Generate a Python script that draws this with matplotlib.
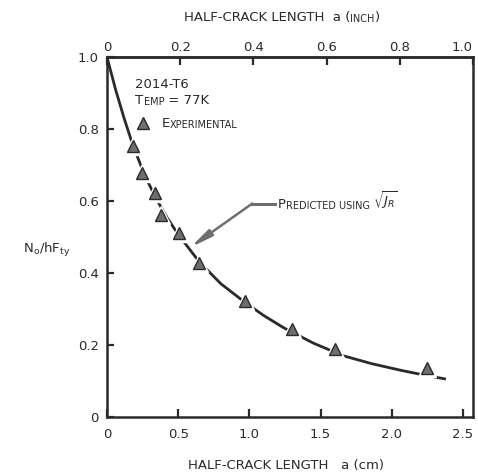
import matplotlib
matplotlib.use("Agg")
import matplotlib.pyplot as plt
from matplotlib.lines import Line2D

plt.rcParams["font.family"] = ["DejaVu Sans"]
plt.rcParams["mathtext.fontset"] = "dejavusans"

INK = "#2a2a2a"
GRAY = "#6e6e6e"

# predicted curve (sqrt J_R), half-crack length in cm vs No/hFty
pred_a_cm = [0, 0.06, 0.12, 0.18, 0.26, 0.34, 0.42, 0.5, 0.65, 0.8,
             0.97, 1.1, 1.24, 1.45, 1.66, 1.86, 2.06, 2.22, 2.37]
pred_ratio = [1.0, 0.91, 0.83, 0.757, 0.676, 0.61, 0.555, 0.507, 0.43, 0.37,
              0.318, 0.282, 0.248, 0.205, 0.170, 0.148, 0.130, 0.117, 0.106]

# experimental points
exp_a_cm = [0.183, 0.246, 0.338, 0.38, 0.507, 0.648, 0.97, 1.296, 1.599, 2.246]
exp_ratio = [0.753, 0.679, 0.623, 0.56, 0.512, 0.427, 0.322, 0.244, 0.19, 0.136]

cm_ticks = [0, 0.5, 1.0, 1.5, 2.0, 2.5]
cm_labels = ["0", "0.5", "1.0", "1.5", "2.0", "2.5"]
inch_ticks = [0, 0.2, 0.4, 0.6, 0.8, 1.0]
inch_labels = ["0", "0.2", "0.4", "0.6", "0.8", "1.0"]
y_ticks = [0, 0.2, 0.4, 0.6, 0.8, 1.0]
y_labels = ["0", "0.2", "0.4", "0.6", "0.8", "1.0"]

CM_PER_INCH = 2.57  # scale as drawn on the original
X_MAX = 2.57

BIG = 9.5
SMALL = 7


def small_caps(first_artist, parts, color=INK):
    # chain text pieces left to right after first_artist
    prev = first_artist
    for txt, size in parts:
        prev = plt.gca().annotate(txt, xy=(1, 0), xycoords=prev, fontsize=size,
                                  ha="left", va="bottom", color=color)
    return prev


fig = plt.figure(figsize=(4.78, 4.75), dpi=100)
ax = fig.add_axes([107 / 478, 58 / 475, 366 / 478, 360 / 475])

ax.plot(pred_a_cm, pred_ratio, color=INK, lw=2.0, zorder=2)
ax.plot(exp_a_cm, exp_ratio, ls="none", marker="^", ms=13, color="white",
        markeredgecolor="white", zorder=3)
ax.plot(exp_a_cm, exp_ratio, ls="none", marker="^", ms=8.5, color=GRAY,
        markeredgecolor=INK, markeredgewidth=1.0, zorder=4)

ax.set_xlim(0, X_MAX)
ax.set_ylim(0, 1.0)
ax.set_xticks(cm_ticks)
ax.set_xticklabels(cm_labels)
ax.set_yticks(y_ticks)
ax.set_yticklabels(y_labels)
ax.tick_params(direction="in", length=6, width=1.6, labelsize=BIG, colors=INK,
               pad=8)
ax.tick_params(axis="y", length=5, pad=6)
for sp in ax.spines.values():
    sp.set_linewidth(1.8)
    sp.set_color(INK)

top = ax.secondary_xaxis("top", functions=(lambda x: x / CM_PER_INCH,
                                           lambda x: x * CM_PER_INCH))
top.set_xticks(inch_ticks)
top.set_xticklabels(inch_labels)
top.tick_params(direction="in", length=6, width=1.6, labelsize=BIG, colors=INK,
                pad=2)
top.spines["top"].set_linewidth(1.8)
top.spines["top"].set_color(INK)
top.get_xticklabels()[-1].set_horizontalalignment("right")

ax.set_ylabel(r"N$_\mathregular{o}$/hF$_\mathregular{ty}$", rotation=0,
              fontsize=BIG, color=INK)
ax.yaxis.set_label_coords(-0.165, 0.44)

# axis titles
t = fig.text(184 / 478, 1 - 24 / 475, "HALF-CRACK LENGTH  a (", fontsize=BIG,
             color=INK, ha="left", va="bottom")
small_caps(t, [("INCH", SMALL), (")", BIG)])
fig.text(286 / 478, 1 - 472 / 475, "HALF-CRACK LENGTH   a (cm)", fontsize=BIG,
         color=INK, ha="center", va="bottom")

# specimen notes
ax.text(0.2, 0.925, "2014-T6", fontsize=BIG, color=INK, va="center")
t = ax.text(0.2, 0.862, "T", fontsize=BIG, color=INK, va="bottom")
small_caps(t, [("EMP", SMALL), (" = 77K", BIG)])

handle = Line2D([], [], ls="none", marker="^", ms=8.5, color=GRAY,
                markeredgecolor=INK, markeredgewidth=1.0)
leg = ax.legend([handle], ["E"], loc="center left",
                bbox_to_anchor=(0.205 / X_MAX, 0.814), frameon=False,
                borderpad=0, borderaxespad=0, handlelength=1.0,
                handletextpad=0.9, fontsize=BIG, labelcolor=INK)
ax.annotate("XPERIMENTAL", xy=(1, 0), xycoords=leg, fontsize=SMALL,
            ha="left", va="bottom", color=INK)

# annotation for predicted curve
arrow_tip = (0.585, 0.471)
arrow_bend = (1.02, 0.593)
label_start = 1.2
ax.plot([arrow_bend[0], label_start - 0.02], [arrow_bend[1], arrow_bend[1]],
        color=GRAY, lw=2.2)
ax.annotate("", xy=arrow_tip, xytext=arrow_bend,
            arrowprops=dict(arrowstyle="-|>,head_length=1.3,head_width=0.22",
                            color=GRAY, lw=1.8, shrinkA=0, shrinkB=0))
t = ax.text(label_start, arrow_bend[1] - 0.02, "P", fontsize=BIG, color=INK,
            va="bottom")
t2 = small_caps(t, [("REDICTED USING ", SMALL)])
ax.annotate(r"$\sqrt{J_R}$", xy=(1, 0), xycoords=t2, fontsize=BIG, ha="left",
            va="bottom", color=INK)

fig.savefig("out.png", dpi=100)
